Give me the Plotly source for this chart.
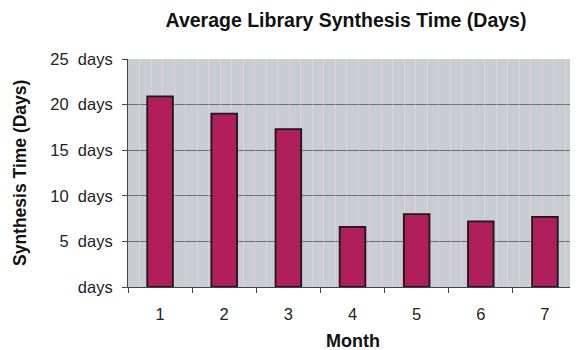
import plotly.graph_objects as go

months = ["1", "2", "3", "4", "5", "6", "7"]
avg_days = [20.9, 19.0, 17.3, 6.6, 8.0, 7.2, 7.7]
y_tick_vals = [0, 5, 10, 15, 20, 25]
y_tick_text = ["days", "5  days", "10  days", "15  days", "20  days", "25  days"]

font_family = "Liberation Sans, Arial, sans-serif"

fig = go.Figure()
fig.add_trace(go.Bar(
    x=months, y=avg_days,
    marker=dict(color="#B01E5E", line=dict(color="#1a1a1a", width=1.8)),
    width=0.4,
    hoverinfo="x+y",
))
# invisible trace to carry the faint vertical texture grid
fig.add_trace(go.Scatter(x=[0, 39], y=[0, 0], xaxis="x2", mode="markers",
                         marker=dict(opacity=0), showlegend=False, hoverinfo="skip"))

fig.update_layout(
    width=570, height=342,
    margin=dict(l=120, r=1, t=51, b=63, autoexpand=False),
    paper_bgcolor="white",
    plot_bgcolor="#C9CCD0",
    showlegend=False,
    font=dict(family=font_family, color="#222222", size=17),
    title=dict(text="<b>Average Library Synthesis Time (Days)</b>",
               x=0.593, xanchor="center", y=0.965, yanchor="middle",
               font=dict(size=19.5, color="#111111")),
    xaxis=dict(
        type="category", range=[-0.5, 6.5], automargin=False,
        tickson="boundaries", ticks="outside", ticklen=5, tickcolor="#444",
        showline=True, linecolor="#444", linewidth=1,
        showgrid=False, tickfont=dict(size=16.5), ticklabelstandoff=12,
    ),
    xaxis2=dict(
        overlaying="x", range=[0, 39], dtick=1, showticklabels=False,
        showgrid=True, gridcolor="rgba(235,215,220,0.5)", gridwidth=1,
        zeroline=False, showline=False, ticks="", anchor="y", automargin=False,
    ),
    yaxis=dict(
        range=[0, 25], tickvals=y_tick_vals, ticktext=y_tick_text, automargin=False,
        ticks="outside", ticklen=5, tickcolor="#444",
        showline=True, linecolor="#444", linewidth=1,
        showgrid=True, gridcolor="#6E6E6E", gridwidth=1.3,
        zeroline=False, tickfont=dict(size=16.5), ticklabelstandoff=6,
    ),
    bargap=0.6,
    annotations=[
        dict(text="<b>Month</b>", xref="paper", yref="paper", x=0.501, y=-0.237,
             xanchor="center", yanchor="middle", showarrow=False,
             font=dict(size=18, color="#111111")),
        dict(text="<b>Synthesis Time (Days)</b>", xref="paper", yref="paper",
             x=-0.2405, y=0.5, xanchor="center", yanchor="middle", textangle=-90,
             showarrow=False, font=dict(size=17.5, color="#111111")),
    ],
)

fig.write_html("out.html")
